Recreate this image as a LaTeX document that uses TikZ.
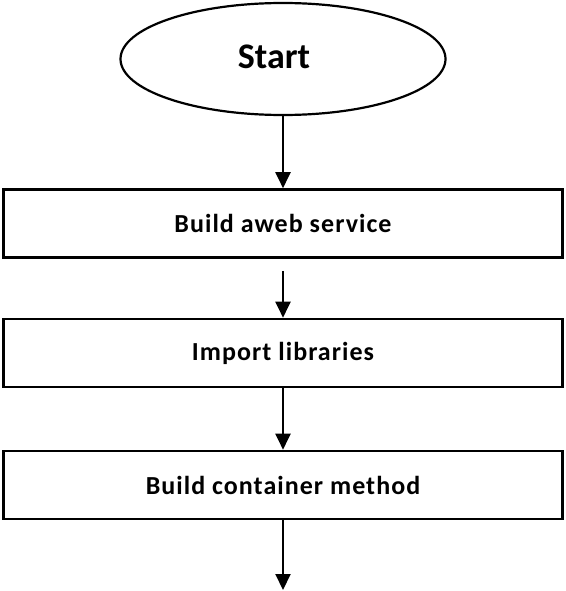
\documentclass[tikz,border=0pt]{standalone}
\usepackage{fontspec}
\setmainfont{Carlito}
\newfontfamily\boxfont[LetterSpace=4]{Carlito}
\usetikzlibrary{shapes.geometric,arrows.meta}

\begin{document}
\begin{tikzpicture}[x=1pt,y=-1pt,font=\boxfont\bfseries\fontsize{26}{30}\selectfont,
  stepbox/.style={draw,line width=2.6pt,minimum width=559pt,minimum height=68pt,inner sep=0pt},
  flow/.style={-{Triangle[width=15pt,length=16pt]},line width=2pt}]
\path[use as bounding box] (0,0) rectangle (565,591);
\node[draw,ellipse,line width=2.2pt,minimum width=325pt,minimum height=112pt] (start) at (283,59) {};
\node[font=\bfseries\fontsize{36}{42}\selectfont] (starttext) at (274,57) {Start};
\node[stepbox] (web) at (283,223.5) {Build aweb service};
\node[stepbox] (libs) at (283,353) {Import libraries};
\node[stepbox] (method) at (283,485) {Build container method};
\coordinate (end) at (283,590);
\draw[flow] (start.south) -- (web.north);
\draw[flow] ([yshift=-12pt]web.south) -- (libs.north);
\draw[flow] (libs.south) -- (method.north);
\draw[flow] (method.south) -- (end);
\end{tikzpicture}
\end{document}
